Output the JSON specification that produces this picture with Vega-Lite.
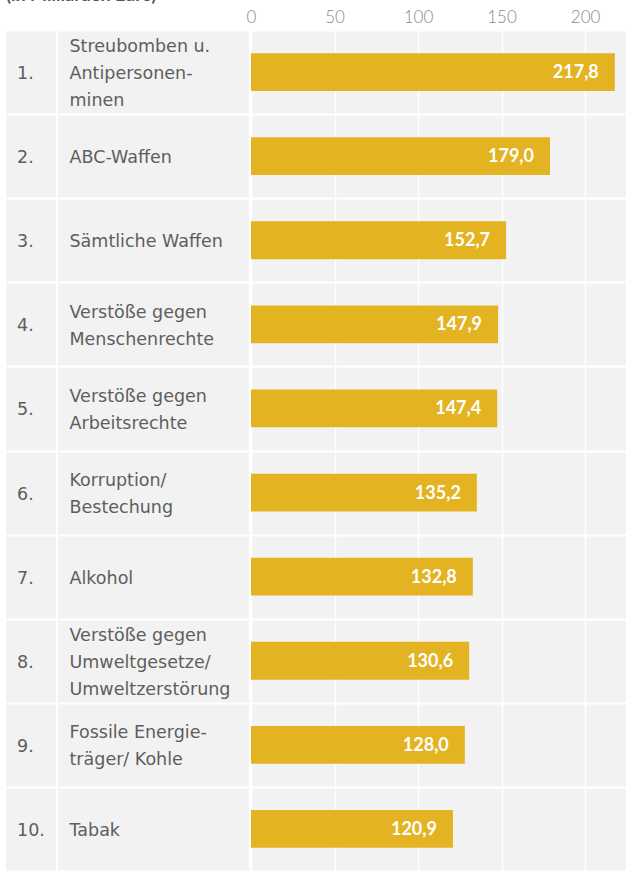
{
  "$schema": "https://vega.github.io/schema/vega-lite/v6.json",
  "autosize": {"type": "none"},
  "padding": {"left": 6, "top": 30, "right": 620, "bottom": 841},
  "background": "white",
  "title": {"text": "(in Milliarden Euro)", "anchor": "start", "fontSize": 18, "fontWeight": "bold", "color": "#555555", "font": "Lato", "offset": 3},
  "data": {"values": [
    {"rank": 1, "platz": "1.", "label": "Streubomben u.\nAntipersonen-\nminen", "value": 217.8},
    {"rank": 2, "platz": "2.", "label": "ABC-Waffen", "value": 179.0},
    {"rank": 3, "platz": "3.", "label": "Sämtliche Waffen", "value": 152.7},
    {"rank": 4, "platz": "4.", "label": "Verstöße gegen\nMenschenrechte", "value": 147.9},
    {"rank": 5, "platz": "5.", "label": "Verstöße gegen\nArbeitsrechte", "value": 147.4},
    {"rank": 6, "platz": "6.", "label": "Korruption/\nBestechung", "value": 135.2},
    {"rank": 7, "platz": "7.", "label": "Alkohol", "value": 132.8},
    {"rank": 8, "platz": "8.", "label": "Verstöße gegen\nUmweltgesetze/\nUmweltzerstörung", "value": 130.6},
    {"rank": 9, "platz": "9.", "label": "Fossile Energie-\nträger/ Kohle", "value": 128.0},
    {"rank": 10, "platz": "10.", "label": "Tabak", "value": 120.9}
  ]},
  "bounds": "flush",
  "spacing": 2,
  "hconcat": [
    {
      "width": 50,
      "height": 841,
      "mark": {"type": "text", "align": "left", "baseline": "middle", "dx": -14, "dy": 2, "font": "DejaVu Sans", "fontSize": 17.5, "color": "#5e5e5e"},
      "encoding": {
        "y": {"field": "rank", "type": "ordinal", "scale": {"paddingInner": 0, "paddingOuter": 0},
              "axis": {"grid": true, "gridColor": "white", "gridWidth": 2, "tickBand": "extent", "labels": false, "ticks": false, "domain": false, "title": null}},
        "text": {"field": "platz"}
      }
    },
    {
      "width": 191,
      "height": 841,
      "encoding": {
        "y": {"field": "rank", "type": "ordinal", "scale": {"paddingInner": 0, "paddingOuter": 0},
              "axis": {"grid": true, "gridColor": "white", "gridWidth": 2, "tickBand": "extent", "labels": false, "ticks": false, "domain": false, "title": null}},
        "text": {"field": "label"}
      },
      "layer": [
        {"transform": [{"filter": "length(split(datum.label, '\\n')) == 1"}],
         "mark": {"type": "text", "align": "left", "baseline": "middle", "dx": -84, "dy": 2, "font": "DejaVu Sans", "fontSize": 17.5, "lineBreak": "\n", "lineHeight": 27, "color": "#5e5e5e"}},
        {"transform": [{"filter": "length(split(datum.label, '\\n')) == 2"}],
         "mark": {"type": "text", "align": "left", "baseline": "middle", "dx": -84, "dy": -11.5, "font": "DejaVu Sans", "fontSize": 17.5, "lineBreak": "\n", "lineHeight": 27, "color": "#5e5e5e"}},
        {"transform": [{"filter": "length(split(datum.label, '\\n')) == 3"}],
         "mark": {"type": "text", "align": "left", "baseline": "middle", "dx": -84, "dy": -25, "font": "DejaVu Sans", "fontSize": 17.5, "lineBreak": "\n", "lineHeight": 27, "color": "#5e5e5e"}}
      ]
    },
    {
      "width": 375,
      "height": 841,
      "encoding": {
        "y": {"field": "rank", "type": "ordinal", "scale": {"paddingInner": 0, "paddingOuter": 0},
              "axis": {"grid": true, "gridColor": "white", "gridWidth": 2, "tickBand": "extent", "labels": false, "ticks": false, "domain": false, "title": null}},
        "x": {"field": "value", "type": "quantitative", "scale": {"domain": [0, 224.5], "nice": false},
              "axis": {"orient": "top", "values": [0, 50, 100, 150, 200], "title": null, "domain": false, "ticks": false,
                       "labelFont": "Lato", "labelFontSize": 17, "labelFontWeight": 300, "labelColor": "#8a8a8a", "labelPadding": 4, "labelFlush": false,
                       "grid": true, "gridColor": "white", "gridWidth": 1.5}}
      },
      "layer": [
        {"mark": {"type": "bar", "color": "#e3b322", "height": {"band": 0.45}}},
        {"mark": {"type": "text", "align": "right", "baseline": "middle", "dx": -16, "dy": 1, "font": "Lato", "fontSize": 18, "fontWeight": "bold", "color": "white"},
         "encoding": {"text": {"field": "value", "type": "quantitative", "format": ".1f"}}}
      ]
    }
  ],
  "config": {
    "view": {"fill": "#f1f2f1", "stroke": null},
    "locale": {"number": {"decimal": ",", "thousands": ".", "grouping": [3], "currency": ["", " €"]}}
  }
}
